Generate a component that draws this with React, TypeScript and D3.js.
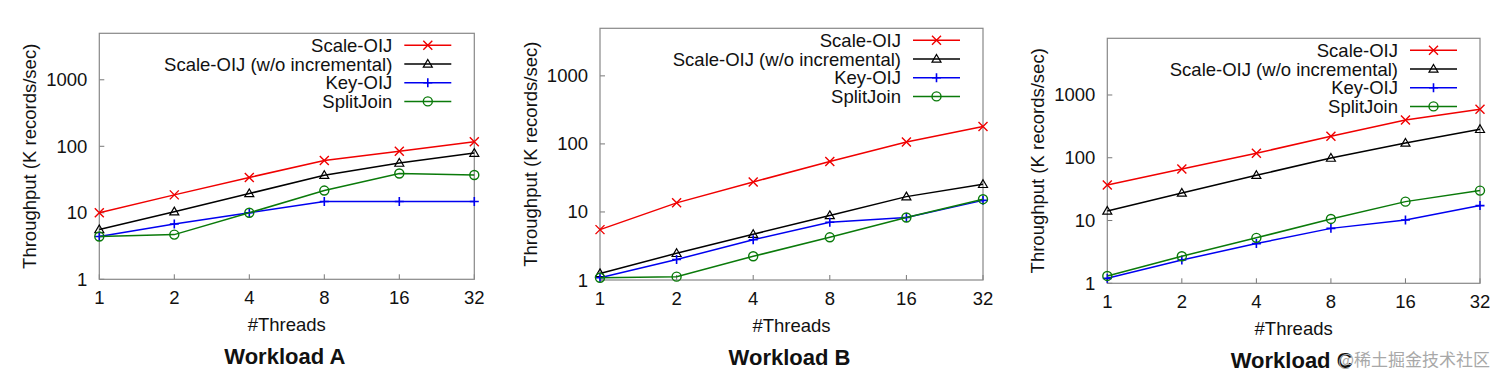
import * as d3 from "d3";

const threads = [1, 2, 4, 8, 16, 32];
const yTicks = [1, 10, 100, 1000];
const seriesNames = ["Scale-OIJ", "Scale-OIJ (w/o incremental)", "Key-OIJ", "SplitJoin"];
const workloads = ["Workload A", "Workload B", "Workload C"];

// Workload A
const scaleOijA = [10, 18.6, 34, 61, 84, 117];
const noIncA = [5.6, 10.4, 19.5, 36.7, 56, 79];
const keyOijA = [4.4, 6.8, 10, 14.8, 14.8, 14.8];
const splitJoinA = [4.4, 4.7, 10, 21.6, 39, 37];

// Workload B
const scaleOijB = [5.5, 13.6, 27.6, 55, 107, 180];
const noIncB = [1.25, 2.47, 4.7, 8.9, 16.8, 25.5];
const keyOijB = [1.08, 2.0, 3.9, 7.05, 8.3, 14.8];
const splitJoinB = [1.08, 1.12, 2.23, 4.24, 8.3, 15.4];

// Workload C
const scaleOijC = [36.9, 66, 118, 220, 400, 591];
const noIncC = [14.2, 27.5, 52.6, 99, 172, 284];
const keyOijC = [1.2, 2.35, 4.29, 7.5, 10.2, 17.3];
const splitJoinC = [1.31, 2.7, 5.3, 10.6, 20, 30];

const panelData = [
  [scaleOijA, noIncA, keyOijA, splitJoinA],
  [scaleOijB, noIncB, keyOijB, splitJoinB],
  [scaleOijC, noIncC, keyOijC, splitJoinC],
];
const yMaxes = [5000, 5000, 8000];

const frames = [
  { left: 99.3, right: 474.3, top: 33.3, bottom: 279.3 },
  { left: 600, right: 983, top: 28.3, bottom: 280 },
  { left: 1107.3, right: 1480, top: 38.3, bottom: 283.3 },
];

const colors = ["#f00000", "#000000", "#0000f0", "#0a7a0a"];
const markers = ["x", "tri", "plus", "circle"];
const font = "'Liberation Sans', Arial, sans-serif";
const fs = 18.5;

const Marker = ({ type, x, y, color }: { type: string; x: number; y: number; color: string }) => {
  const s = 4.5;
  if (type === "x")
    return <path d={`M${x - s},${y - s}L${x + s},${y + s}M${x - s},${y + s}L${x + s},${y - s}`} stroke={color} strokeWidth={1.4} />;
  if (type === "plus")
    return <path d={`M${x - s},${y}L${x + s},${y}M${x},${y - s}L${x},${y + s}`} stroke={color} strokeWidth={1.6} />;
  if (type === "tri")
    return <path d={`M${x},${y - 4.5}L${x + 4.5},${y + 3.2}L${x - 4.5},${y + 3.2}Z`} fill="none" stroke={color} strokeWidth={1.2} />;
  return <circle cx={x} cy={y} r={4.5} fill="none" stroke={color} strokeWidth={1.4} />;
};

const Panel = ({ idx }: { idx: number }) => {
  const f = frames[idx];
  const x = d3.scaleLog().base(2).domain([1, 32]).range([f.left, f.right]);
  const y = d3.scaleLog().domain([1, yMaxes[idx]]).range([f.bottom, f.top]);
  const line = d3
    .line<number>()
    .x((_, i) => x(threads[i]))
    .y((d) => y(d));
  const cx = (f.left + f.right) / 2;
  const legendEnd = f.right - 23;
  const legendStart = legendEnd - 47;
  return (
    <g fontFamily={font}>
      {/* ticks */}
      {yTicks.map((t) => (
        <g key={"y" + t}>
          <line x1={f.left} x2={f.left + 5} y1={y(t)} y2={y(t)} stroke="#777" />
          <text x={f.left - 12} y={y(t)} textAnchor="end" dominantBaseline="central" fontSize={fs} fill="#111">
            {t}
          </text>
        </g>
      ))}
      {threads.map((t) => (
        <g key={"x" + t}>
          <line x1={x(t)} x2={x(t)} y1={f.bottom} y2={f.bottom - 5} stroke="#777" />
          <text x={x(t)} y={f.bottom + 25} textAnchor="middle" fontSize={fs} fill="#111">
            {t}
          </text>
        </g>
      ))}
      <rect x={f.left} y={f.top} width={f.right - f.left} height={f.bottom - f.top} fill="none" stroke="#888" strokeWidth={1.2} />
      {/* series */}
      {panelData[idx].map((vals, si) => (
        <g key={si}>
          <path d={line(vals) || ""} fill="none" stroke={colors[si]} strokeWidth={1.5} />
          {vals.map((v, i) => (
            <Marker key={i} type={markers[si]} x={x(threads[i])} y={y(v)} color={colors[si]} />
          ))}
        </g>
      ))}
      {/* legend */}
      {seriesNames.map((name, si) => {
        const ly = f.top + 12 + si * 18.7;
        return (
          <g key={name}>
            <text x={legendStart - 12} y={ly} textAnchor="end" dominantBaseline="central" fontSize={fs} fill="#111">
              {name}
            </text>
            <line x1={legendStart} x2={legendEnd} y1={ly} y2={ly} stroke={colors[si]} strokeWidth={1.5} />
            <Marker type={markers[si]} x={(legendStart + legendEnd) / 2} y={ly} color={colors[si]} />
          </g>
        );
      })}
      {/* axis titles */}
      <text
        transform={`translate(${f.left - 70},${(f.top + f.bottom) / 2}) rotate(-90)`}
        textAnchor="middle"
        dominantBaseline="central"
        fontSize={fs}
        fill="#111"
      >
        Throughput (K records/sec)
      </text>
      <text x={cx} y={f.bottom + 52} textAnchor="middle" fontSize={fs} fill="#111">
        #Threads
      </text>
      <text x={cx - 2} y={f.bottom + 85} textAnchor="middle" fontSize={22} fontWeight="bold" fill="#111">
        {workloads[idx]}
      </text>
    </g>
  );
};

export default function App() {
  return (
    <svg width={1512} height={384} style={{ position: "absolute", left: 0, top: 0, background: "#fff" }}>
      <rect width={1512} height={384} fill="#fff" />
      {workloads.map((_, i) => (
        <Panel key={i} idx={i} />
      ))}
      <text x={1338} y={358} dominantBaseline="central" fontSize={17} fill="#a8a8a8" fontFamily="'Noto Sans CJK SC', sans-serif">
        @稀土掘金技术社区
      </text>
    </svg>
  );
}
